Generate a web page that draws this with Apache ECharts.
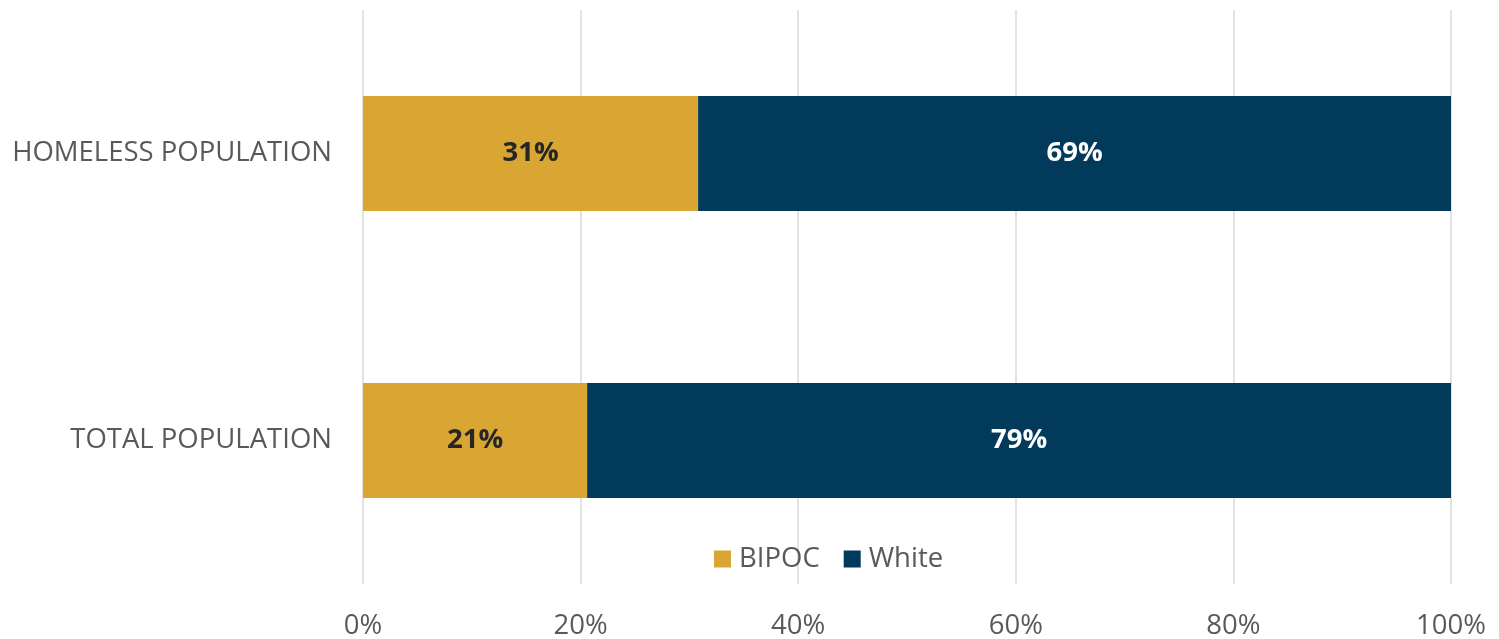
<!DOCTYPE html>
<html><head><meta charset="utf-8">
<script src="https://cdn.jsdelivr.net/npm/echarts@6/dist/echarts.min.js"></script>
<style>html,body{margin:0;padding:0;background:#fff}#c{width:1499px;height:639px}</style>
</head><body><div id="c"></div>
<script>
const categories = ['TOTAL POPULATION', 'HOMELESS POPULATION'];
const bipoc = [20.6, 30.8];
const white = [79.4, 69.2];
const xTicks = [0, 20, 40, 60, 80, 100];

const font = 'Open Sans';
const chart = echarts.init(document.getElementById('c'), null, {renderer: 'canvas'});
chart.setOption({
  animation: false,
  textStyle: {fontFamily: font},
  grid: {left: 363, right: 48, top: 10, bottom: 55, containLabel: false, outerBoundsMode: 'none'},
  legend: {
    data: ['BIPOC', 'White'], top: 540, left: 709,
    itemWidth: 17, itemHeight: 17, itemGap: 24, icon: 'rect',
    textStyle: {fontSize: 27.5, color: '#595959', fontFamily: font, padding: [0, 0, 0, 3]}
  },
  xAxis: {
    type: 'value', min: 0, max: 100, interval: 20,
    axisLine: {show: false}, axisTick: {show: false},
    splitLine: {lineStyle: {color: '#d9d9d9', width: 1.5}},
    axisLabel: {fontSize: 27.5, color: '#595959', margin: 28, formatter: v => xTicks.includes(v) ? v + '%' : ''}
  },
  yAxis: {
    type: 'category', data: categories,
    axisLine: {show: false}, axisTick: {show: false},
    axisLabel: {fontSize: 27.5, color: '#595959', margin: 31}
  },
  series: [
    {name: 'BIPOC', type: 'bar', stack: 's', data: bipoc, barWidth: '40%',
     itemStyle: {color: '#D9A633'},
     label: {show: true, position: 'inside', formatter: p => Math.round(p.value) + '%', fontSize: 27.5, fontWeight: 'bold', color: '#262626'}},
    {name: 'White', type: 'bar', stack: 's', data: white, barWidth: '40%',
     itemStyle: {color: '#023A5B'},
     label: {show: true, position: 'inside', formatter: p => Math.round(p.value) + '%', fontSize: 27.5, fontWeight: 'bold', color: '#ffffff'}}
  ]
});
</script></body></html>
